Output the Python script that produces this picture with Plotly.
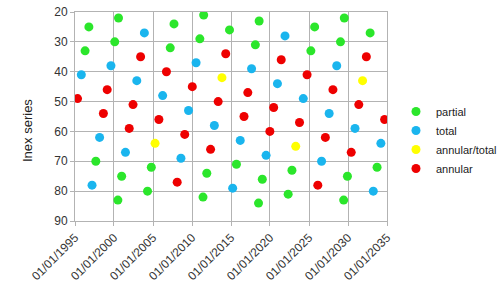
import plotly.graph_objects as go

# Solar eclipses 1995-2035: date, Inex series number, type
partial_dates = ["1996-04-17", "1996-10-12", "1997-09-02", "2000-02-05", "2000-07-01", "2000-07-31",
                 "2000-12-25", "2004-04-19", "2004-10-14", "2007-03-19", "2007-09-11", "2011-01-04",
                 "2011-06-01", "2011-07-01", "2011-11-25", "2014-10-23", "2015-09-13", "2018-02-15",
                 "2018-07-13", "2018-08-11", "2019-01-06", "2022-04-30", "2022-10-25", "2025-03-29",
                 "2025-09-21", "2029-01-14", "2029-06-12", "2029-07-11", "2029-12-05", "2032-11-03",
                 "2033-09-23"]
partial_inex = [33, 25, 70, 30, 83, 22, 75, 80, 72, 32, 24, 29, 82, 21, 74, 26, 71, 31, 84, 23, 76,
                81, 73, 33, 25, 30, 83, 22, 75, 27, 72]

total_dates = ["1995-10-24", "1997-03-09", "1998-02-26", "1999-08-11", "2001-06-21", "2002-12-04",
               "2003-11-23", "2006-03-29", "2008-08-01", "2009-07-22", "2010-07-11", "2012-11-13",
               "2015-03-20", "2016-03-09", "2017-08-21", "2019-07-02", "2020-12-14", "2021-12-04",
               "2024-04-08", "2026-08-12", "2027-08-02", "2028-07-22", "2030-11-25", "2033-03-30",
               "2034-03-20"]
total_inex = [41, 78, 62, 38, 67, 43, 27, 48, 69, 53, 37, 58, 79, 63, 39, 68, 44, 28, 49, 70, 54, 38,
              59, 80, 64]

hybrid_dates = ["2005-04-08", "2013-11-03", "2023-04-20", "2031-11-14"]
hybrid_inex = [64, 42, 65, 43]

annular_dates = ["1995-04-29", "1998-08-22", "1999-02-16", "2001-12-14", "2002-06-10", "2003-05-31",
                 "2005-10-03", "2006-09-22", "2008-02-07", "2009-01-26", "2010-01-15", "2012-05-20",
                 "2013-05-10", "2014-04-29", "2016-09-01", "2017-02-26", "2019-12-26", "2020-06-21",
                 "2021-06-10", "2023-10-14", "2024-10-02", "2026-02-17", "2027-02-06", "2028-01-26",
                 "2030-06-01", "2031-05-21", "2032-05-09", "2034-09-12"]
annular_inex = [49, 54, 46, 59, 51, 35, 56, 40, 77, 61, 45, 66, 50, 34, 55, 47, 60, 52, 36, 57, 41,
                78, 62, 46, 67, 51, 35, 56]

x_ticks = ["1995-01-01", "2000-01-01", "2005-01-01", "2010-01-01", "2015-01-01",
           "2020-01-01", "2025-01-01", "2030-01-01", "2035-01-01"]
x_tick_labels = ["01/01/1995", "01/01/2000", "01/01/2005", "01/01/2010", "01/01/2015",
                 "01/01/2020", "01/01/2025", "01/01/2030", "01/01/2035"]
y_ticks = [20, 30, 40, 50, 60, 70, 80, 90]
y_title = "Inex series"

series = [
    ("partial", partial_dates, partial_inex, "#2be62b"),
    ("total", total_dates, total_inex, "#1ab5ee"),
    ("annular/total", hybrid_dates, hybrid_inex, "#ffff00"),
    ("annular", annular_dates, annular_inex, "#ee0000"),
]

fig = go.Figure()
for name, xs, ys, col in series:
    fig.add_trace(go.Scatter(x=xs, y=ys, mode="markers", name=name,
                             marker=dict(size=9, color=col, line=dict(width=0))))

W, H = 500, 282
ml, mr, mt, mb = 75, 113, 12, 61
pw = W - ml - mr
ph = H - mt - mb
grid = "#b3b3b3"
fig.update_layout(
    width=W, height=H,
    margin=dict(l=ml, r=mr, t=mt, b=mb, pad=0, autoexpand=False),
    paper_bgcolor="white", plot_bgcolor="white",
    font=dict(family="Liberation Sans, Arial, sans-serif", size=12, color="#333333"),
    showlegend=True,
    legend=dict(x=(396 - ml) / pw, xanchor="left", y=1 - (140 - mt) / ph, yanchor="middle",
                font=dict(size=11, color="#222222"), bgcolor="rgba(0,0,0,0)",
                itemwidth=30, tracegroupgap=0),
    xaxis=dict(type="date", range=["1995-01-01", "2035-01-01"],
               tickmode="array", tickvals=x_ticks, ticktext=x_tick_labels, tickangle=-45,
               showgrid=True, gridcolor=grid, gridwidth=1,
               showline=True, linecolor=grid, linewidth=1, mirror=True,
               ticks="outside", ticklen=4, tickcolor=grid, zeroline=False,
               tickfont=dict(size=12, color="#333333")),
    yaxis=dict(range=[90, 20], tickmode="array", tickvals=y_ticks,
               showgrid=True, gridcolor=grid, gridwidth=1,
               showline=True, linecolor=grid, linewidth=1, mirror=True,
               ticks="outside", ticklen=4, tickcolor=grid, zeroline=False,
               tickfont=dict(size=12, color="#333333")),
    annotations=[dict(text=y_title, textangle=-90, xref="paper", yref="paper",
                      x=(27 - ml) / pw, y=1 - (131 - mt) / ph,
                      xanchor="center", yanchor="middle", showarrow=False,
                      font=dict(size=13, color="#222222"))],
)

fig.write_html("out.html")
